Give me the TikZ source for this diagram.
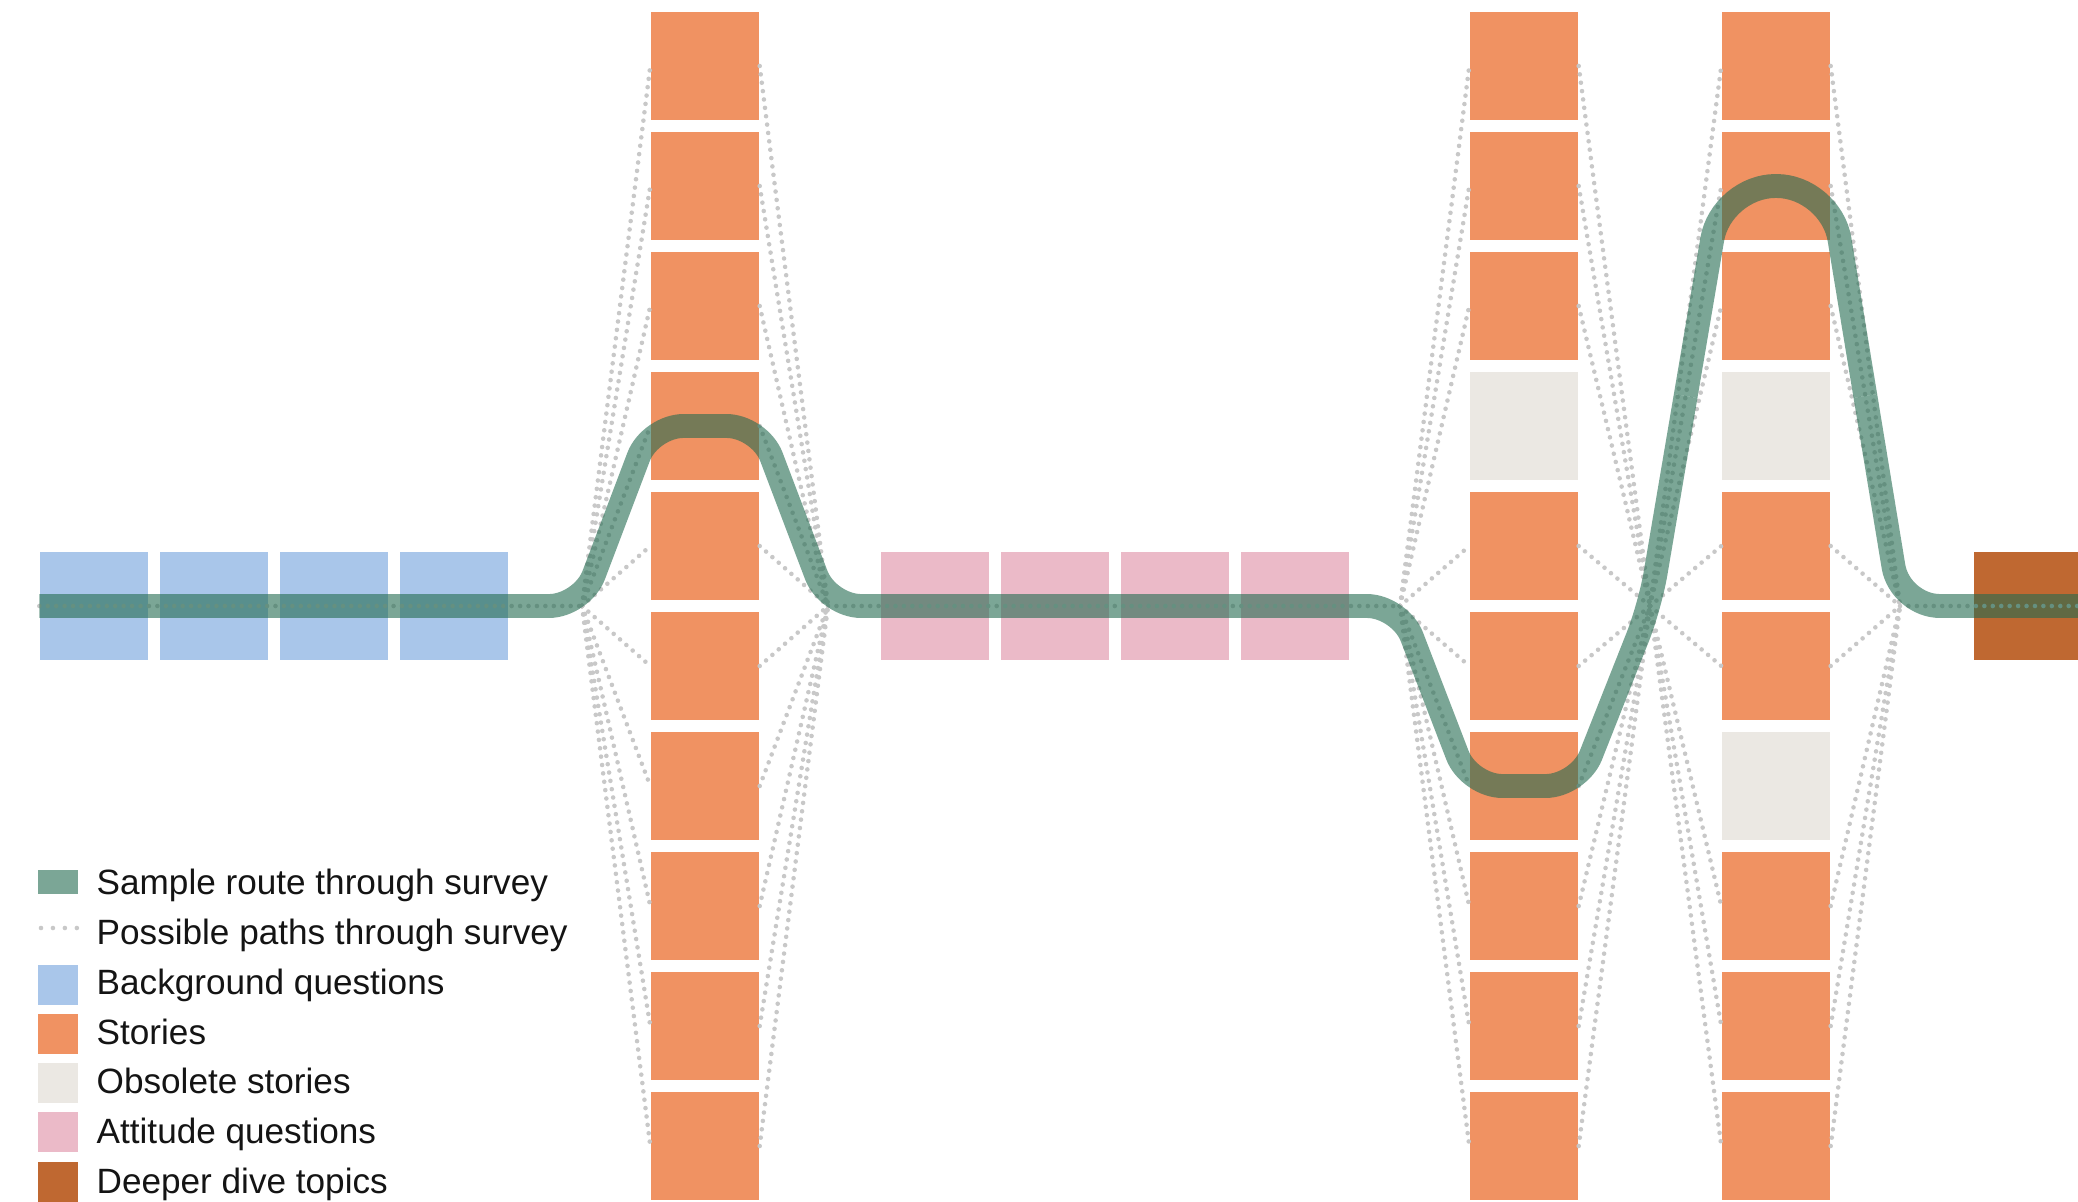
\documentclass[tikz,border=0pt]{standalone}
\usepackage{fontspec}
\setmainfont{Liberation Sans}
\usepackage{xcolor}
\usepackage{tikz}
\usetikzlibrary{positioning,calc}
\definecolor{BgBlue}{RGB}{169,198,234}
\definecolor{StoryOr}{RGB}{240,146,98}
\definecolor{ObsGray}{RGB}{235,232,227}
\definecolor{AttPink}{RGB}{235,186,200}
\definecolor{DeepOr}{RGB}{191,104,49}
\definecolor{RouteGr}{RGB}{35,107,80}
\definecolor{PathGray}{RGB}{200,200,200}
\tikzset{
  qbox/.style={rectangle,inner sep=0pt,minimum width=10.8mm,minimum height=10.8mm},
  bgq/.style={qbox,fill=BgBlue},
  story/.style={qbox,fill=StoryOr},
  obsolete/.style={qbox,fill=ObsGray},
  attq/.style={qbox,fill=AttPink},
  deep/.style={qbox,fill=DeepOr},
  paths/.style={PathGray,line width=1.3pt,line cap=round,dash pattern=on 0pt off 2.4pt},
  route/.style={RouteGr,draw opacity=0.6,line width=6.8pt,rounded corners=3.3mm},
  keysq/.style={rectangle,inner sep=0pt,minimum width=4mm,minimum height=4mm},
  keytxt/.style={anchor=base west,inner sep=0pt,font=\fontsize{10}{12}\selectfont,text=black!92},
}

\begin{document}
\begin{tikzpicture}[x=0.1mm,y=-0.1mm]
  \path[fill=white,use as bounding box] (0,0) rectangle (2078,1202);

  % question boxes
  \foreach \i/\x in {1/94,2/214,3/334,4/454}
    \node[bgq] (b\i) at (\x,606) {};
  \foreach \i/\x in {1/935,2/1055,3/1175,4/1295}
    \node[attq] (a\i) at (\x,606) {};
  \node[deep] (d1) at (2028,606) {};

  % story columns
  \foreach \k in {0,...,9}
    \node[story] (s1-\k) at (705,{66+120*\k}) {};
  \foreach \k in {0,1,2,4,5,6,7,8,9}
    \node[story] (s2-\k) at (1524,{66+120*\k}) {};
  \node[obsolete] (s2-3) at (1524,426) {};
  \foreach \k in {0,1,2,4,5,7,8,9}
    \node[story] (s3-\k) at (1776,{66+120*\k}) {};
  \node[obsolete] (s3-3) at (1776,426) {};
  \node[obsolete] (s3-6) at (1776,786) {};

  \coordinate (j1) at (582,606);
  \coordinate (j2) at (828,606);
  \coordinate (j3) at (1400,606);
  \coordinate (j4) at (1650,606);
  \coordinate (j5) at (1900,606);

  % possible paths
  \draw[paths] (b1.west) -- (j1);
  \draw[paths] (j2) -- (j3);
  \draw[paths] (j5) -- (d1.east);
  \foreach \k in {0,...,9} {
    \draw[paths] (j1) -- (s1-\k.west);
    \draw[paths] (s1-\k.east) -- (j2);
  }
  \foreach \k in {0,1,2,4,5,6,7,8,9} {
    \draw[paths] (j3) -- (s2-\k.west);
    \draw[paths] (s2-\k.east) -- (j4);
  }
  \foreach \k in {0,1,2,4,5,7,8,9} {
    \draw[paths] (j4) -- (s3-\k.west);
    \draw[paths] (s3-\k.east) -- (j5);
  }

  % sample route
  \coordinate (m1) at ($(j4)!0.5!(s3-1.west)$);
  \coordinate (m2) at ($(s3-1.east)!0.5!(j5)$);
  \draw[route] (b1.west) -- (j1) -- (s1-3.west) -- (s1-3.east) -- (j2) -- (j3)
    -- (s2-6.west) -- (s2-6.east) -- (j4) -- (m1);
  \draw[route,rounded corners=5.4mm] (m1) -- (s3-1.west) -- (s3-1.east) -- (m2);
  \draw[route,rounded corners=4mm] (m2) -- (j5) -- (d1.east);

  % key
  \node[keysq,minimum height=2.4mm,fill=RouteGr,fill opacity=0.6] (k1) at (58,882) {};
  \coordinate (k2a) at (41,928);
  \coordinate (k2b) at (78,928);
  \draw[paths,dash pattern=on 0pt off 3.4pt] (k2a) -- (k2b);
  \node[keysq,fill=BgBlue] (k3) at (58,985) {};
  \node[keysq,fill=StoryOr] (k4) at (58,1034) {};
  \node[keysq,fill=ObsGray] (k5) at (58,1083) {};
  \node[keysq,fill=AttPink] (k6) at (58,1132) {};
  \node[keysq,fill=DeepOr] (k7) at (58,1182) {};
  \node[keytxt] (t1) at (96,894) {Sample route through survey};
  \node[keytxt] (t2) at (96,944) {Possible paths through survey};
  \node[keytxt] (t3) at (96,994) {Background questions};
  \node[keytxt] (t4) at (96,1044) {Stories};
  \node[keytxt] (t5) at (96,1093) {Obsolete stories};
  \node[keytxt] (t6) at (96,1143) {Attitude questions};
  \node[keytxt] (t7) at (96,1193) {Deeper dive topics};
\end{tikzpicture}
\end{document}
